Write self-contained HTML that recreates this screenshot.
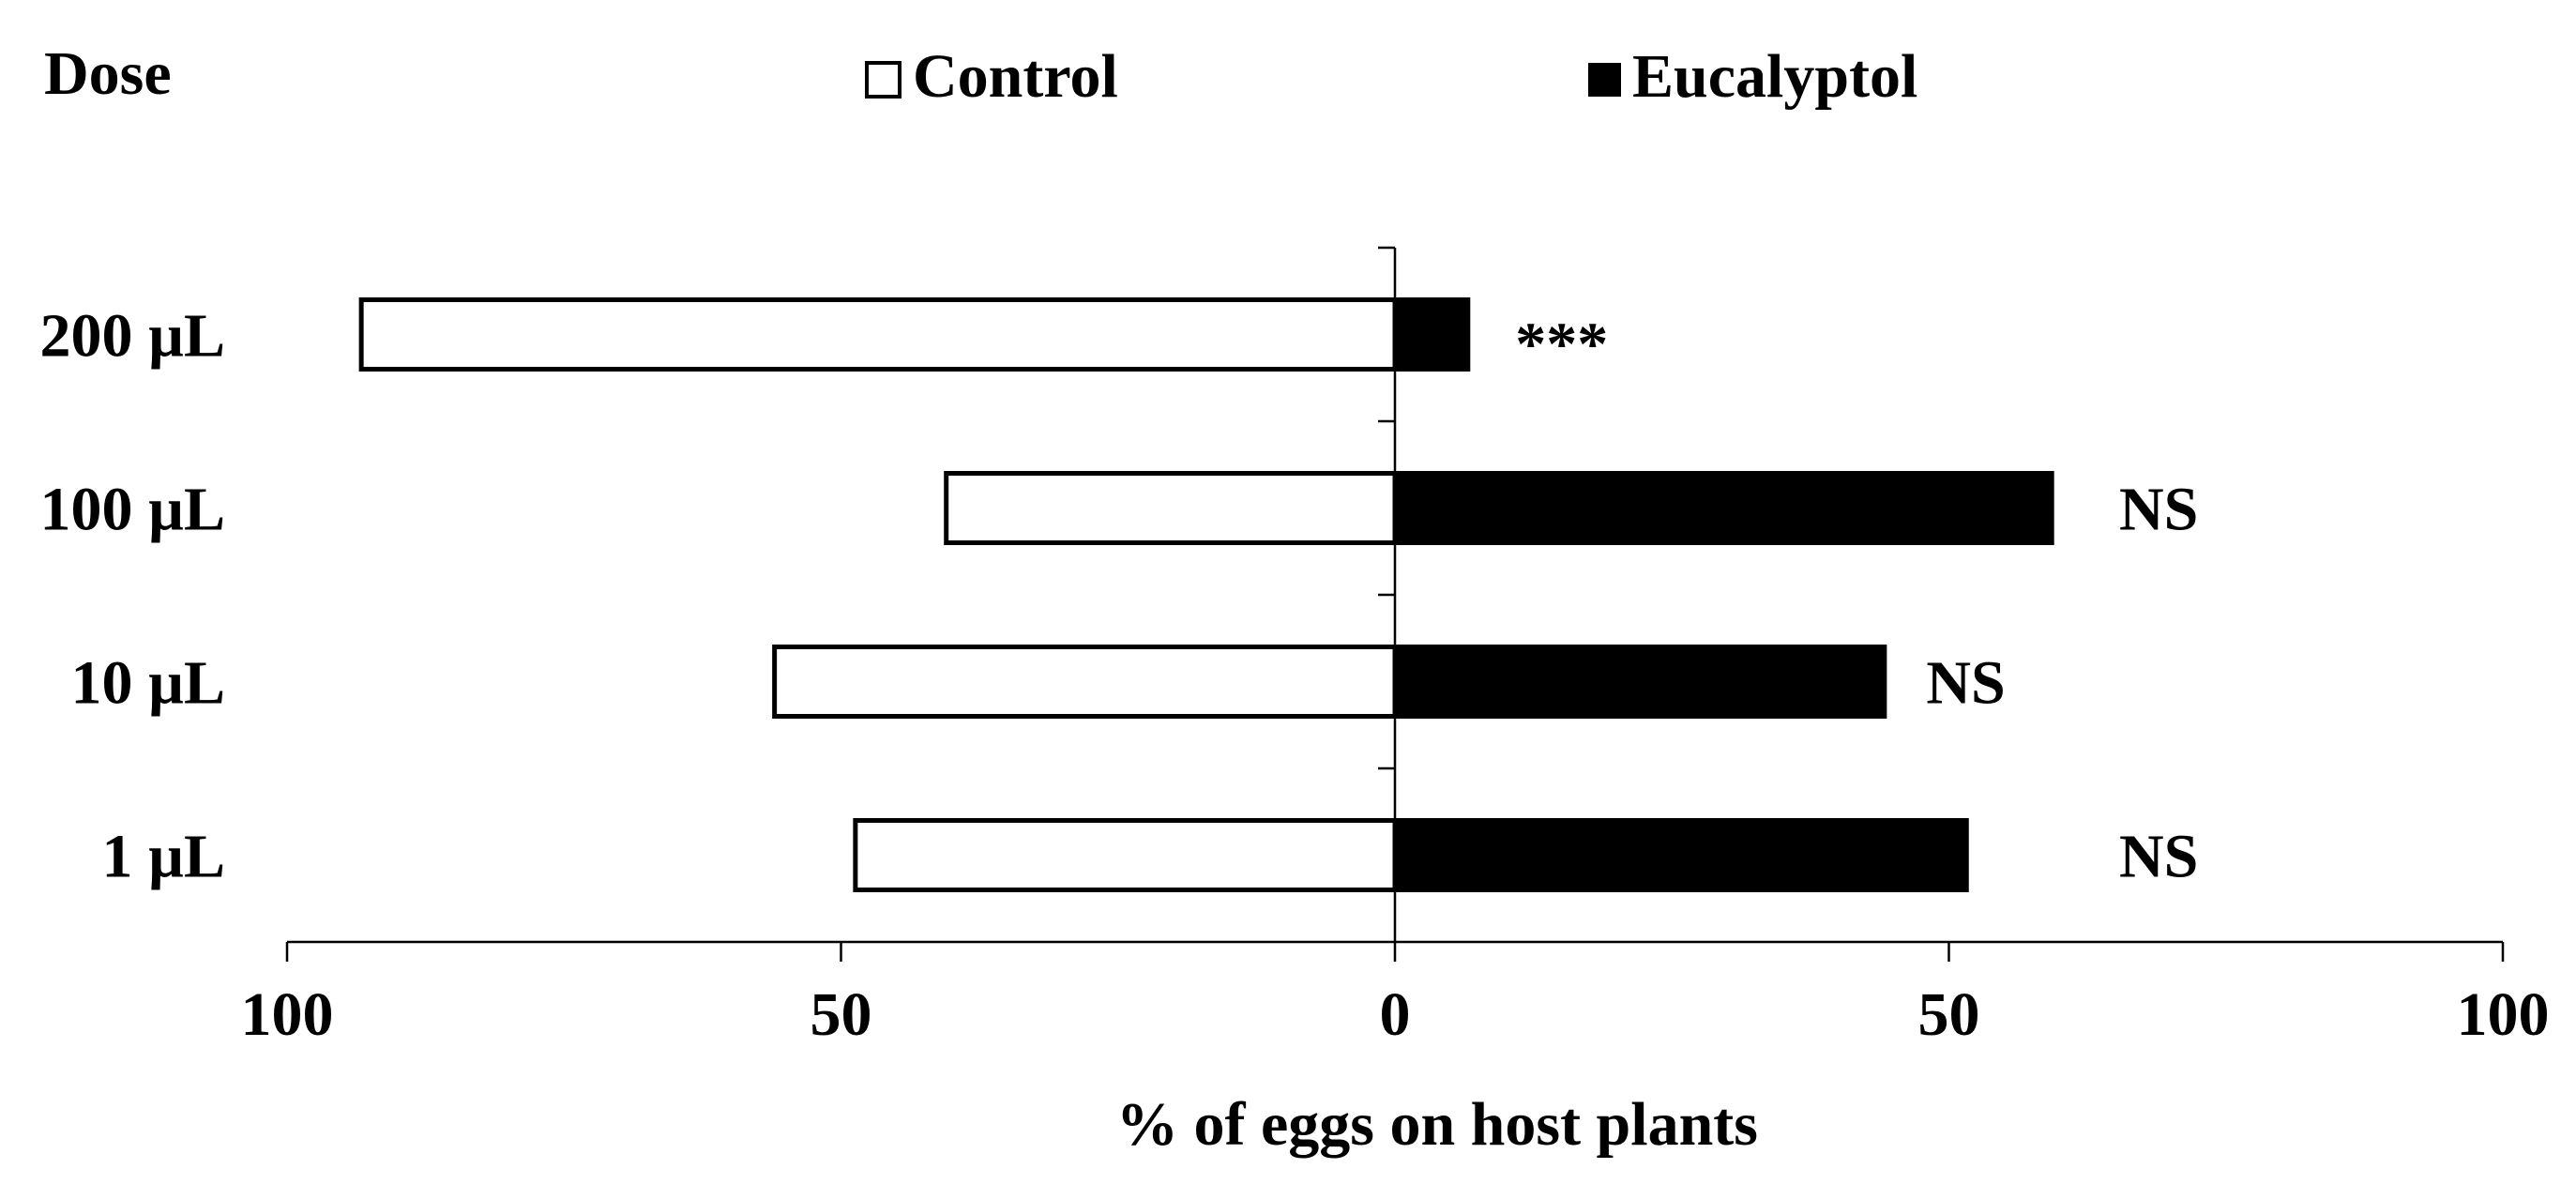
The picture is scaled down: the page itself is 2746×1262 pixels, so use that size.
<!DOCTYPE html>
<html><head><meta charset="utf-8"><style>
html,body{margin:0;padding:0;background:#fff}
svg{display:block}
text{font-family:"Liberation Serif",serif;font-weight:bold;font-size:66px;fill:#000}
</style></head><body>
<svg id="chart" width="2746" height="1262" viewBox="0 0 2746 1262">
<text x="47" y="100">Dose</text>
<g>
<rect x="924" y="67" width="35" height="36" fill="#fff" stroke="#000" stroke-width="4"/>
<text x="973" y="103">Control</text>
<rect x="1693" y="67" width="35" height="36" fill="#000"/>
<text x="1740" y="103">Eucalyptol</text>
</g>
<g id="plot"></g>
<text x="1532" y="1220" text-anchor="middle">% of eggs on host plants</text>
</svg>
<script>
const categories = ["200 µL", "100 µL", "10 µL", "1 µL"];
const controlValues = [93.3, 40.5, 56.0, 48.7];
const eucalyptolValues = [6.8, 59.5, 44.4, 51.8];
const significance = ["***", "NS", "NS", "NS"];
const xTickValues = [-100, -50, 0, 50, 100];
const xTickLabels = ["100", "50", "0", "50", "100"];

const NS = "http://www.w3.org/2000/svg";
const plot = document.getElementById('plot');
const x0 = 1487, halfW = 1181;
const yTop = 264, yBot = 1004;
const band = (yBot - yTop) / categories.length;
const xScale = v => x0 + v / 100 * halfW;
const yCenter = i => yTop + band * (i + 0.5);
const barH = 74;
function mk(tag, attrs) { const e = document.createElementNS(NS, tag); for (const k in attrs) e.setAttribute(k, attrs[k]); plot.appendChild(e); return e; }

categories.forEach((c, i) => {
  const yc = yCenter(i);
  const r1 = mk('rect', {x: xScale(-controlValues[i]), y: yc - barH/2, width: xScale(0) - xScale(-controlValues[i]), height: barH, fill: '#fff', stroke: '#000', 'stroke-width': 5});
  
  
  const r2 = mk('rect', {x: xScale(0), y: yc - barH/2 - 2.5, width: xScale(eucalyptolValues[i]) - xScale(0), height: barH + 5, fill: '#000'});
  
  
  const t = mk('text', {x: 240, y: yc + 23, 'text-anchor': 'end'});
  t.textContent = c;
  
  
  const s = mk('text', {x: i === 0 ? xScale(eucalyptolValues[i]) + 48 : (i === 2 ? xScale(eucalyptolValues[i]) + 42 : 2259), y: i === 0 ? yc + 32 : yc + 23});
  s.textContent = significance[i];
  
  
});
const ya = mk('line', {x1: x0, y1: yTop, x2: x0, y2: yBot, stroke: '#000', 'stroke-width': 2.5});


for (let i = 0; i < categories.length; i++) {
  const yy = yTop + band * i;
  const tk = mk('line', {x1: x0 - 18, y1: yy, x2: x0, y2: yy, stroke: '#000', 'stroke-width': 2.5});
  
  
}
const xa = mk('line', {x1: xScale(-100), y1: yBot, x2: xScale(100), y2: yBot, stroke: '#000', 'stroke-width': 2.5});


xTickValues.forEach((v, i) => {
  const tk = mk('line', {x1: xScale(v), y1: yBot, x2: xScale(v), y2: yBot + 21, stroke: '#000', 'stroke-width': 2.5});
  
  
  const tl = mk('text', {x: xScale(v), y: 1103, 'text-anchor': 'middle'});
  tl.textContent = xTickLabels[i];
  
  
});
</script>
</body></html>
